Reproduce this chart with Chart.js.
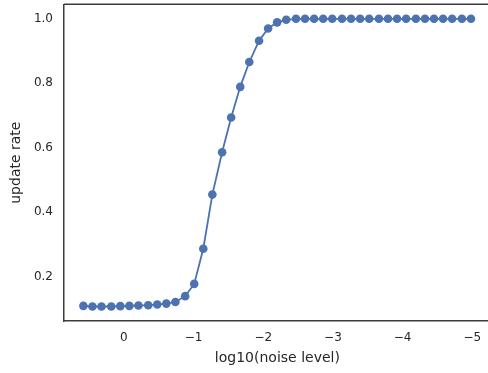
<!DOCTYPE html>
<html>
<head>
<meta charset="utf-8">
<script src="https://cdn.jsdelivr.net/npm/chart.js@4/dist/chart.umd.min.js"></script>
<style>
html{margin:0;padding:0;background:#fff;overflow:hidden;}
body{margin:0;padding:0;background:#fff;overflow:hidden;width:495px;height:373px;}
#wrap{width:495px;height:373px;}
canvas{display:block;width:495px;height:373px;}
</style>
</head>
<body>
<div id="wrap"><canvas id="c" width="495" height="373"></canvas></div>
<script>
// log10(noise level) values (x)
const noiseLog10 = [0.58, 0.45, 0.32, 0.18, 0.05, -0.08, -0.21, -0.35, -0.48, -0.61,
  -0.74, -0.88, -1.01, -1.14, -1.27, -1.41, -1.54, -1.67, -1.80, -1.94,
  -2.07, -2.20, -2.33, -2.47, -2.60, -2.73, -2.86, -2.99, -3.13, -3.26,
  -3.39, -3.52, -3.66, -3.79, -3.92, -4.05, -4.19, -4.32, -4.45, -4.58,
  -4.71, -4.85, -4.98];
// update rate values (y)
const updateRate = [0.110, 0.108, 0.108, 0.108, 0.109, 0.110, 0.111, 0.112, 0.114, 0.117,
  0.122, 0.140, 0.178, 0.287, 0.455, 0.586, 0.694, 0.789, 0.866, 0.932,
  0.970, 0.989, 0.997, 1.0, 1.0, 1.0, 1.0, 1.0, 1.0, 1.0,
  1.0, 1.0, 1.0, 1.0, 1.0, 1.0, 1.0, 1.0, 1.0, 1.0,
  1.0, 1.0, 1.0];
const xTicks = [0, -1, -2, -3, -4, -5];
const yTicks = [0.2, 0.4, 0.6, 0.8, 1.0];

const points = noiseLog10.map((x, i) => ({x: x, y: updateRate[i]}));
const fmtX = v => v < 0 ? '\u2212' + Math.abs(v) : String(v);
const noPad = s => { s.paddingTop = 0; s.paddingBottom = 0; s.paddingLeft = 0; s.paddingRight = 0; };

const frame = {
  id: 'frame',
  afterDraw(chart) {
    const {ctx, chartArea: a} = chart;
    ctx.save();
    ctx.strokeStyle = '#3c3c3c';
    ctx.lineWidth = 1.5;
    ctx.beginPath();
    ctx.moveTo(a.left, a.top);
    ctx.lineTo(a.right, a.top);
    ctx.stroke();
    ctx.restore();
  }
};

new Chart(document.getElementById('c'), {
  type: 'scatter',
  data: {
    datasets: [{
      data: points,
      showLine: true,
      borderColor: '#4c72b0',
      backgroundColor: '#4c72b0',
      borderWidth: 1.8,
      pointRadius: 4.3,
      pointHoverRadius: 4.3,
      pointBorderWidth: 0,
      clip: false
    }]
  },
  options: {
    responsive: false,
    animation: false,
    events: [],
    layout: {padding: {top: 3, right: 1, left: 0, bottom: 0}},
    plugins: {legend: {display: false}, tooltip: {enabled: false}},
    scales: {
      x: {
        type: 'linear',
        reverse: true,
        min: -5.263,
        max: 0.858,
        afterBuildTicks: s => { s.ticks = xTicks.map(v => ({value: v})); },
        afterFit: s => { noPad(s); s.height = 52; },
        ticks: {
          color: '#262626',
          font: {family: 'DejaVu Sans', size: 12},
          padding: 10,
          callback: v => fmtX(v),
          maxRotation: 0
        },
        grid: {display: true, color: 'rgba(0,0,0,0)', drawTicks: false},
        border: {display: true, color: '#3c3c3c', width: 1.5},
        title: {
          display: true,
          text: 'log10(noise level)',
          color: '#262626',
          font: {family: 'DejaVu Sans', size: 14},
          padding: {top: 4, bottom: 6.6}
        }
      },
      y: {
        type: 'linear',
        min: 0.063,
        max: 1.045,
        afterBuildTicks: s => { s.ticks = yTicks.map(v => ({value: v})); },
        afterFit: s => { noPad(s); s.width = 64; },
        ticks: {
          color: '#262626',
          font: {family: 'DejaVu Sans', size: 12},
          padding: 11,
          callback: v => v.toFixed(1)
        },
        grid: {display: true, color: 'rgba(0,0,0,0)', drawTicks: false},
        border: {display: true, color: '#3c3c3c', width: 1.5},
        title: {
          display: true,
          text: 'update rate',
          color: '#262626',
          font: {family: 'DejaVu Sans', size: 14},
          padding: {top: 8.3, bottom: 8.8}
        }
      }
    }
  },
  plugins: [frame]
});
</script>
</body>
</html>
